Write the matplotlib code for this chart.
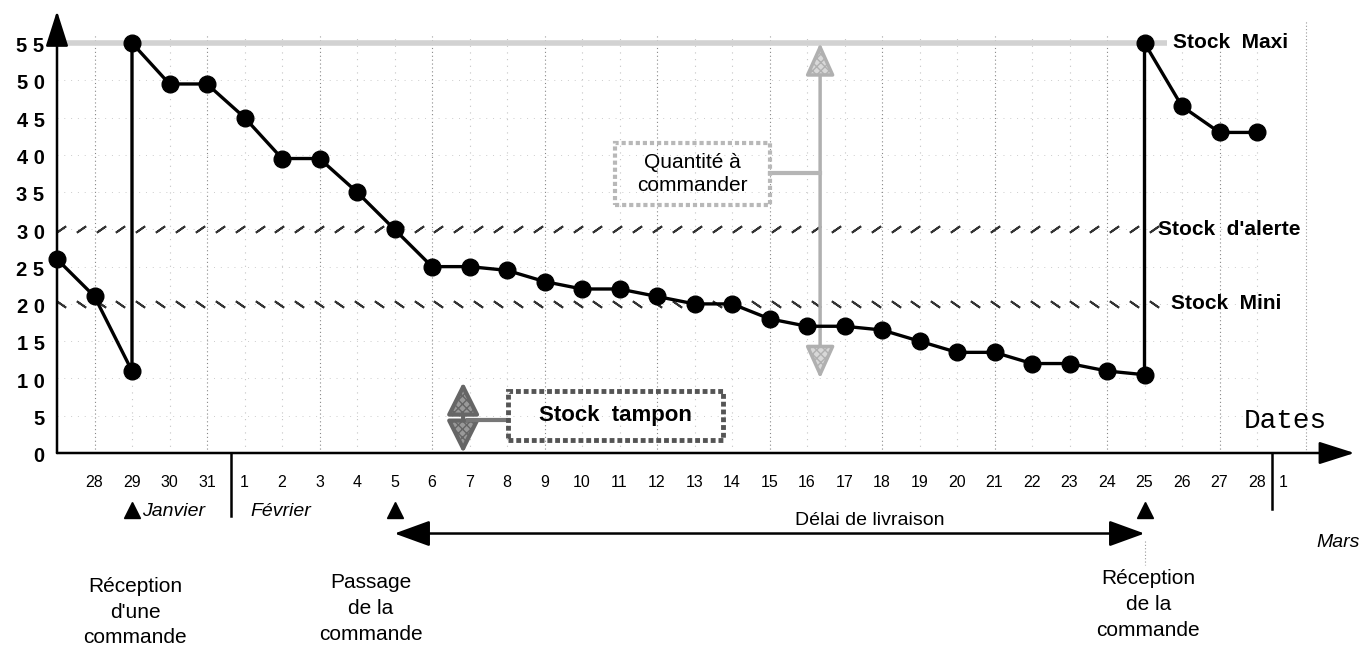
import matplotlib.pyplot as plt
from matplotlib.patches import Rectangle
import numpy as np

plt.rcParams['font.family'] = ['Liberation Sans', 'DejaVu Sans']

# day index: 0 = 27 janvier, 1..4 = 28..31 janvier, 5..32 = 1..28 fevrier
stock_day = [0, 1, 2, 2, 3, 4, 5, 6, 7, 8, 9, 10, 11, 12, 13, 14, 15, 16, 17,
             18, 19, 20, 21, 22, 23, 24, 25, 26, 27, 28, 29, 29, 30, 31, 32]
stock_qty = [26, 21, 11, 55, 49.5, 49.5, 45, 39.5, 39.5, 35, 30, 25, 25, 24.5,
             23, 22, 22, 21, 20, 20, 18, 17, 17, 16.5, 15, 13.5, 13.5, 12, 12,
             11, 10.5, 55, 46.5, 43, 43]

y_ticks = [0, 5, 10, 15, 20, 25, 30, 35, 40, 45, 50, 55]
jan_labels = [28, 29, 30, 31]
jan_pos = [1, 2, 3, 4]
feb_labels = list(range(1, 29))
feb_pos = list(range(5, 33))

stock_maxi = 55
stock_alerte = 30
stock_mini = 20

reception_1 = 2     # 29 janvier
passage = 9         # 5 fevrier
reception_2 = 29    # 25 fevrier

# pixel mapping of the scan: 37.5 px per day, 7.455 px per unit
fig = plt.figure(figsize=(13.61, 6.58), dpi=100)
ax = fig.add_axes([0, 0, 1, 1])
ax.set_xlim(-57 / 37.5, (1361 - 57) / 37.5)
ax.set_ylim(-(658 - 453) / 7.455, 453 / 7.455)
ax.axis('off')

# dotted grid
for d in range(1, 33):
    strong = (d - 1) % 3 == 0
    ax.plot([d, d], [0, 56], color='#888888' if strong else '#c4c4c4',
            lw=0.8, ls=(0, (1, 2.5)) if strong else (0, (1, 5)), zorder=1)
for v in y_ticks[1:-1]:
    ax.plot([0, 32], [v, v], color='#cccccc', lw=0.7, ls=(0, (1, 6)), zorder=1)
ax.plot([33.3, 33.3], [0, 58], color='#999999', lw=0.8, ls=(0, (1, 2)), zorder=1)

# reference levels
ax.plot([-0.2, 29.6], [stock_maxi, stock_maxi], color='#d2d2d2', lw=4,
        solid_capstyle='butt', zorder=2)
xs = np.arange(0.1, 29.3, 0.53)
ax.plot(xs, [stock_alerte] * len(xs), ls='none', marker=(2, 2, -55),
        ms=8, mew=1.4, color='#333333', zorder=2)
xs = np.arange(0.1, 29.7, 0.53)
ax.plot(xs, [stock_mini] * len(xs), ls='none', marker=(2, 2, 55),
        ms=8, mew=1.4, color='#333333', zorder=2)

ax.text(29.76, stock_maxi, 'Stock  Maxi', fontsize=15, fontweight='bold',
        ha='left', va='center')
ax.text(29.36, stock_alerte, "Stock  d'alerte", fontsize=15, fontweight='bold',
        ha='left', va='center')
ax.text(29.7, stock_mini, 'Stock  Mini', fontsize=15, fontweight='bold',
        ha='left', va='center')

# axes with arrows
ax.annotate('', xy=(34.6, 0), xytext=(0, 0),
            arrowprops=dict(arrowstyle='-|>,head_length=1.1,head_width=0.35',
                            mutation_scale=20, lw=1.8, color='black',
                            shrinkA=0, shrinkB=0))
ax.annotate('', xy=(0, 59.3), xytext=(0, 0),
            arrowprops=dict(arrowstyle='-|>,head_length=1.1,head_width=0.35',
                            mutation_scale=20, lw=1.8, color='black',
                            shrinkA=0, shrinkB=0))

for v in y_ticks:
    ax.text(-0.33, v - 0.5, ' '.join(str(v)), fontsize=14.5, fontweight='bold',
            ha='right', va='center')

for p, lab in zip(jan_pos + feb_pos, jan_labels + feb_labels):
    ax.text(p, -4.0, str(lab), fontsize=11.5, ha='center', va='center')
ax.text(32.7, -4.0, '1', fontsize=11.5, ha='center', va='center')

ax.plot([4.65, 4.65], [0, -8.5], color='black', lw=1.8)
ax.plot([32.4, 32.4], [0, -7.5], color='black', lw=1.8)
ax.text(3.1, -7.9, 'Janvier', fontsize=14, style='italic', ha='center', va='center')
ax.text(5.97, -7.9, 'Février', fontsize=14, style='italic', ha='center', va='center')
ax.text(34.16, -12.0, 'Mars', fontsize=14, style='italic', ha='center', va='center')

ax.text(32.75, 4.3, 'Dates', fontsize=20, family='Liberation Mono',
        ha='center', va='center')

# stock curve
ax.plot(stock_day, stock_qty, color='black', lw=2.4, marker='o', ms=12, zorder=5)

# events under the axis
ax.plot([reception_1, passage, reception_2], [-7.6] * 3, ls='none', marker='^',
        ms=12, color='black')
ax.annotate('', xy=(reception_2, -10.8), xytext=(passage, -10.8),
            arrowprops=dict(arrowstyle='<|-|>,head_length=1.1,head_width=0.4',
                            mutation_scale=20, lw=1.8, color='black',
                            shrinkA=0, shrinkB=0))
ax.text(21.68, -9.1, 'Délai de livraison', fontsize=14, ha='center', va='center')
ax.plot([reception_2, reception_2], [-11.8, -15.0], color='#999999', lw=0.8,
        ls=(0, (1, 2)))

ax.text(2.08, -16.6, "Réception\nd'une\ncommande", fontsize=15, ha='center',
        va='top', linespacing=1.45)
ax.text(8.37, -16.1, 'Passage\nde la\ncommande', fontsize=15, ha='center',
        va='top', linespacing=1.45)
ax.text(29.1, -15.6, 'Réception\nde la\ncommande', fontsize=15, ha='center',
        va='top', linespacing=1.45)

# quantite a commander
ax.annotate('', xy=(20.35, 55), xytext=(20.35, 10),
            arrowprops=dict(arrowstyle='<|-|>,head_length=1.0,head_width=0.45',
                            mutation_scale=20, lw=2.5, fc='#d8d8d8', ec='#b0b0b0',
                            hatch='xxxx', shrinkA=0, shrinkB=0), zorder=3)
ax.plot([19.01, 20.35], [37.6, 37.6], color='#b5b5b5', lw=3, zorder=3)
ax.add_patch(Rectangle((14.88, 33.3), 4.13, 8.3, fill=False, ec='#b8b8b8',
                       lw=3, ls=(0, (1, 0.7)), zorder=3))
ax.text(16.95, 37.45, 'Quantité à\ncommander', fontsize=15, ha='center',
        va='center', linespacing=1.25, zorder=4)

# stock tampon
ax.annotate('', xy=(10.83, 9.5), xytext=(10.83, 0),
            arrowprops=dict(arrowstyle='<|-|>,head_length=1.0,head_width=0.5',
                            mutation_scale=20, lw=3, fc='#999999', ec='#666666',
                            hatch='xxxx', shrinkA=0, shrinkB=0), zorder=3)
ax.plot([10.95, 12.03], [4.4, 4.4], color='#777777', lw=3, zorder=3)
ax.add_patch(Rectangle((12.03, 1.8), 5.73, 6.5, fill=False, ec='#555555',
                       lw=3.5, ls=(0, (1, 0.6)), zorder=3))
ax.text(14.9, 5.05, 'Stock  tampon', fontsize=16, fontweight='bold',
        ha='center', va='center', zorder=4)

fig.savefig('out.png', dpi=100)
